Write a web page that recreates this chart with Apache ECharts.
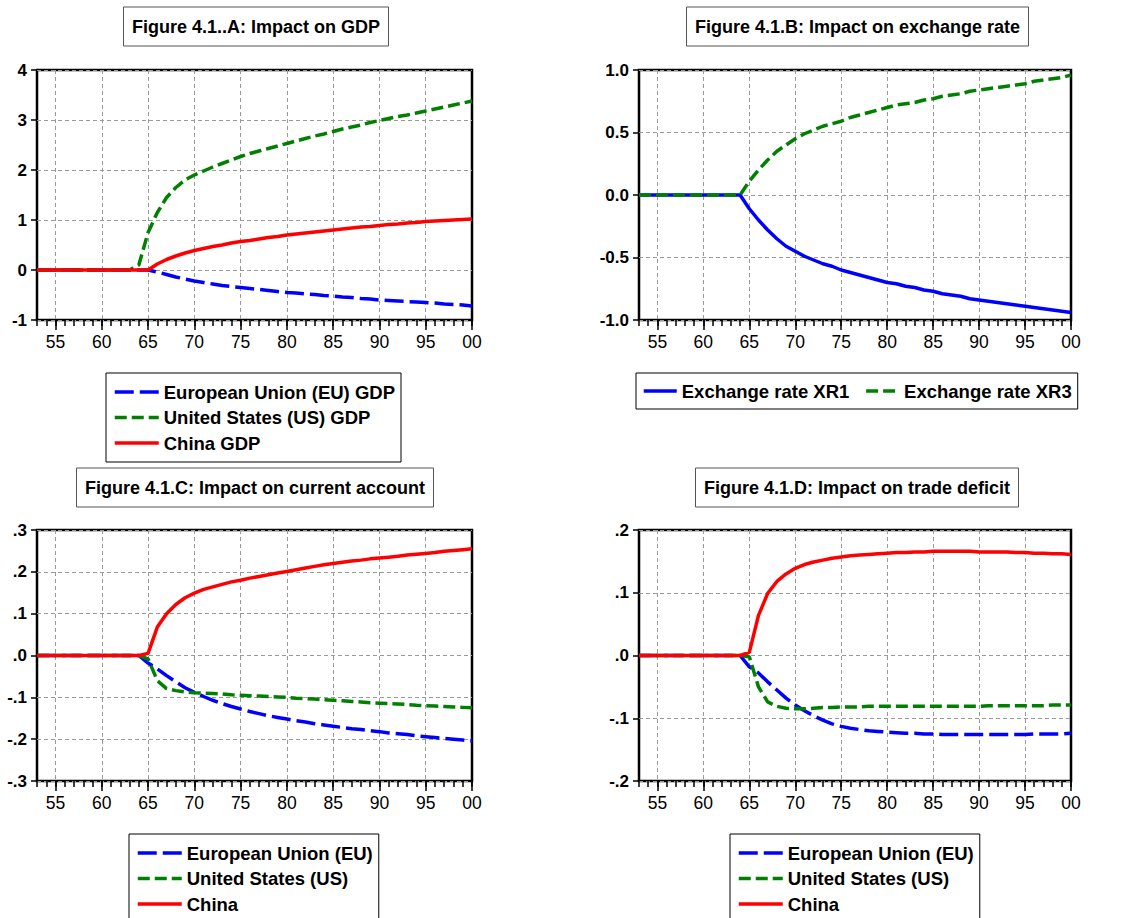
<!DOCTYPE html>
<html><head><meta charset="utf-8">
<script src="https://cdn.jsdelivr.net/npm/echarts@6/dist/echarts.min.js"></script>
<style>html,body{margin:0;padding:0;background:#fff}#c{width:1125px;height:918px}</style>
</head><body><div id="c"></div>
<script>
const years = ['1953','1954','1955','1956','1957','1958','1959','1960','1961','1962','1963','1964','1965','1966','1967','1968','1969','1970','1971','1972','1973','1974','1975','1976','1977','1978','1979','1980','1981','1982','1983','1984','1985','1986','1987','1988','1989','1990','1991','1992','1993','1994','1995','1996','1997','1998','1999','2000'];

const titlesText = ['Figure 4.1..A: Impact on GDP','Figure 4.1.B: Impact on exchange rate','Figure 4.1.C: Impact on current account','Figure 4.1.D: Impact on trade deficit'];

// Panel A: GDP
const gdpEU = [0,0,0,0,0,0,0,0,0,0,0,0,0,
 -0.04,-0.09,-0.14,-0.18,-0.22,-0.25,-0.28,-0.31,-0.33,-0.35,-0.37,-0.39,-0.41,-0.43,-0.45,-0.46,-0.48,-0.49,-0.51,-0.52,-0.54,-0.55,-0.57,-0.58,-0.6,-0.61,-0.62,-0.63,-0.64,-0.65,-0.66,-0.68,-0.69,-0.7,-0.72];
const gdpUS = [0,0,0,0,0,0,0,0,0,0,0,
 0.1,0.75,1.15,1.45,1.65,1.8,1.9,1.98,2.06,2.13,2.2,2.27,2.33,2.38,2.43,2.48,2.53,2.58,2.63,2.68,2.72,2.77,2.82,2.86,2.9,2.95,2.99,3.03,3.07,3.1,3.14,3.18,3.22,3.26,3.3,3.34,3.38];
const gdpCN = [0,0,0,0,0,0,0,0,0,0,0,0,0,
 0.12,0.21,0.28,0.34,0.39,0.43,0.47,0.5,0.54,0.57,0.59,0.62,0.65,0.67,0.7,0.72,0.74,0.76,0.78,0.8,0.82,0.84,0.86,0.87,0.89,0.91,0.92,0.94,0.95,0.97,0.98,0.99,1.0,1.01,1.02];

// Panel B: exchange rate
const xr1 = [0,0,0,0,0,0,0,0,0,0,0,0,
 -0.11,-0.2,-0.28,-0.35,-0.41,-0.45,-0.49,-0.52,-0.55,-0.57,-0.6,-0.62,-0.64,-0.66,-0.68,-0.7,-0.71,-0.73,-0.74,-0.76,-0.77,-0.79,-0.8,-0.81,-0.83,-0.84,-0.85,-0.86,-0.87,-0.88,-0.89,-0.9,-0.91,-0.92,-0.93,-0.94];
const xr3 = [0,0,0,0,0,0,0,0,0,0,0,0,
 0.11,0.2,0.28,0.35,0.4,0.45,0.49,0.52,0.55,0.57,0.59,0.62,0.64,0.66,0.68,0.7,0.72,0.73,0.74,0.76,0.77,0.79,0.8,0.81,0.83,0.84,0.85,0.86,0.87,0.88,0.89,0.91,0.92,0.93,0.94,0.96];

// Panel C: current account
const caEU = [0,0,0,0,0,0,0,0,0,0,0,0,
 -0.018,-0.032,-0.048,-0.063,-0.077,-0.088,-0.098,-0.107,-0.115,-0.122,-0.128,-0.134,-0.139,-0.144,-0.148,-0.152,-0.156,-0.159,-0.163,-0.166,-0.169,-0.172,-0.175,-0.177,-0.18,-0.182,-0.185,-0.187,-0.189,-0.192,-0.194,-0.196,-0.198,-0.2,-0.202,-0.204];
const caUS = [0,0,0,0,0,0,0,0,0,0,0,0,
 -0.008,-0.06,-0.079,-0.084,-0.087,-0.089,-0.09,-0.091,-0.092,-0.094,-0.095,-0.096,-0.097,-0.098,-0.099,-0.1,-0.102,-0.103,-0.104,-0.106,-0.107,-0.108,-0.11,-0.111,-0.113,-0.114,-0.115,-0.116,-0.117,-0.119,-0.12,-0.121,-0.122,-0.123,-0.124,-0.125];
const caCN = [0,0,0,0,0,0,0,0,0,0,0,0,
 0.005,0.068,0.1,0.122,0.138,0.149,0.158,0.164,0.17,0.176,0.18,0.185,0.189,0.193,0.197,0.201,0.205,0.209,0.213,0.217,0.22,0.223,0.226,0.228,0.231,0.233,0.235,0.237,0.24,0.242,0.244,0.246,0.249,0.251,0.253,0.255];

// Panel D: trade deficit
const tdEU = [0,0,0,0,0,0,0,0,0,0,0,0,
 -0.018,-0.028,-0.042,-0.055,-0.068,-0.079,-0.088,-0.096,-0.103,-0.109,-0.113,-0.116,-0.118,-0.12,-0.121,-0.122,-0.123,-0.124,-0.124,-0.125,-0.125,-0.126,-0.126,-0.126,-0.126,-0.126,-0.126,-0.126,-0.126,-0.126,-0.126,-0.125,-0.125,-0.125,-0.125,-0.124];
const tdUS = [0,0,0,0,0,0,0,0,0,0,0,0,
 -0.002,-0.05,-0.074,-0.081,-0.084,-0.085,-0.085,-0.084,-0.083,-0.083,-0.082,-0.082,-0.082,-0.081,-0.081,-0.081,-0.081,-0.081,-0.081,-0.081,-0.081,-0.081,-0.081,-0.081,-0.081,-0.081,-0.08,-0.08,-0.08,-0.08,-0.08,-0.08,-0.08,-0.079,-0.079,-0.079];
const tdCN = [0,0,0,0,0,0,0,0,0,0,0,0,
 0.005,0.064,0.099,0.118,0.13,0.139,0.145,0.149,0.152,0.155,0.157,0.159,0.16,0.161,0.162,0.163,0.164,0.164,0.165,0.165,0.166,0.166,0.166,0.166,0.166,0.165,0.165,0.165,0.165,0.164,0.164,0.163,0.163,0.162,0.162,0.161];

const namesA = ['European Union (EU) GDP','United States (US) GDP','China GDP'];
const namesB = ['Exchange rate XR1','Exchange rate XR3'];
const namesCD = ['European Union (EU)','United States (US)','China'];

const FONT = '"Liberation Sans", Arial, Helvetica, sans-serif';
const BLUE = '#0000ff', GREEN = '#008000', RED = '#ff0000';
const LW = 3.5;
const styleEU = {color: BLUE, width: LW, type: [19, 6]};
const styleUS = {color: GREEN, width: LW, type: [12, 5]};
const styleSolidRed = {color: RED, width: LW, type: 'solid'};
const styleSolidBlue = {color: BLUE, width: LW, type: 'solid'};

const gridsLayout = [
  {left: 37, top: 70, width: 435, height: 250},
  {left: 639, top: 70, width: 432, height: 250},
  {left: 37, top: 530, width: 435, height: 251},
  {left: 639, top: 530, width: 432, height: 251}
];
const yRanges = [
  {min: -1, max: 4, interval: 1, fmt: v => String(v)},
  {min: -1, max: 1, interval: 0.5, fmt: v => v.toFixed(1)},
  {min: -0.3, max: 0.3, interval: 0.1, fmt: v => v.toFixed(1).replace('0.', '.')},
  {min: -0.2, max: 0.2, interval: 0.1, fmt: v => v.toFixed(1).replace('0.', '.')}
];
const titleLayout = [
  {left: 123, top: 7},
  {left: 686, top: 7},
  {left: 76, top: 468},
  {left: 695, top: 468}
];

const grid = gridsLayout.map(g => Object.assign({show: true, borderColor: '#000', borderWidth: 2.5, backgroundColor: 'transparent', containLabel: false}, g));

const xAxis = [];
const yAxis = [];
gridsLayout.forEach((g, i) => {
  xAxis.push({
    type: 'category', gridIndex: i, data: years, boundaryGap: false, position: 'bottom',
    axisLine: {show: false, onZero: false},
    axisTick: {show: true, inside: false, length: 10, interval: (idx, val) => (+val) % 5 === 0, lineStyle: {color: '#000', width: 1.5}},
    axisLabel: {show: true, interval: (idx, val) => (+val) % 5 === 0, formatter: v => v.slice(2), color: '#000', fontFamily: FONT, fontSize: 17.5, margin: 13},
    splitLine: {show: true, interval: (idx, val) => (+val) % 5 === 0 && val !== '2000', lineStyle: {color: '#9a9a9a', width: 1, type: [4, 3]}}
  });
  // minor yearly ticks
  xAxis.push({
    type: 'category', gridIndex: i, data: years, boundaryGap: false, position: 'bottom',
    axisLine: {show: false, onZero: false},
    axisTick: {show: true, length: 6, interval: 0, lineStyle: {color: '#000', width: 1.5}},
    axisLabel: {show: false}, splitLine: {show: false}
  });
  const r = yRanges[i];
  yAxis.push({
    type: 'value', gridIndex: i, min: r.min, max: r.max, interval: r.interval,
    axisLine: {show: false, onZero: false},
    axisTick: {show: true, length: 6, lineStyle: {color: '#000', width: 1.5}},
    axisLabel: {formatter: r.fmt, color: '#000', fontFamily: FONT, fontSize: 17, fontWeight: 'bold', margin: 10},
    splitLine: {show: true, lineStyle: {color: '#9a9a9a', width: 1, type: [4, 3]}}
  });
});

function line(name, data, gi, ls) {
  return {
    type: 'line', name, data, xAxisIndex: gi * 2, yAxisIndex: gi,
    symbol: 'none', showSymbol: false, smooth: false, silent: true,
    lineStyle: ls, itemStyle: {color: ls.color}, animation: false
  };
}

const series = [
  line(namesA[0], gdpEU, 0, styleEU),
  line(namesA[1], gdpUS, 0, styleUS),
  line(namesA[2], gdpCN, 0, styleSolidRed),
  line(namesB[0], xr1, 1, styleSolidBlue),
  line(namesB[1], xr3, 1, styleUS),
  line(namesCD[0], caEU, 2, styleEU),
  line(namesCD[1], caUS, 2, styleUS),
  line(namesCD[2], caCN, 2, styleSolidRed),
  line(namesCD[0], tdEU, 3, styleEU),
  line(namesCD[1], tdUS, 3, styleUS),
  line(namesCD[2], tdCN, 3, styleSolidRed)
];

const legendBase = {
  selectedMode: false, borderColor: '#000', borderWidth: 1, backgroundColor: '#fff',
  itemHeight: 14,
  lineStyle: {width: LW},
  itemStyle: {opacity: 0, borderWidth: 0},
  textStyle: {color: '#000', fontFamily: FONT, fontSize: 18.5, fontWeight: 'bold', lineHeight: 20}
};
const legend = [
  Object.assign({}, legendBase, {data: namesA, orient: 'vertical', left: 106, top: 373, height: 100, itemWidth: 44, itemGap: 5.5, padding: [9, 6, 9, 7]}),
  Object.assign({}, legendBase, {data: namesB, orient: 'horizontal', left: 636, top: 373, itemWidth: 33, itemGap: 15, padding: [8, 6, 8, 6]}),
  Object.assign({}, legendBase, {data: namesCD, orient: 'vertical', left: 129, top: 834, height: 100, itemWidth: 44, itemGap: 5.5, padding: [9, 6, 9, 7]}),
  Object.assign({}, legendBase, {data: namesCD, orient: 'vertical', left: 730, top: 834, height: 100, itemWidth: 44, itemGap: 5.5, padding: [9, 6, 9, 7]})
];

const title = titlesText.map((t, i) => Object.assign({
  text: t, borderColor: '#555', borderWidth: 1, backgroundColor: '#fff', padding: [8.5, 9],
  textStyle: {color: '#000', fontFamily: FONT, fontSize: 18, fontWeight: 'bold', lineHeight: 22}
}, titleLayout[i]));

const chart = echarts.init(document.getElementById('c'), null, {renderer: 'svg'});
chart.setOption({
  backgroundColor: '#fff', animation: false,
  title, legend, grid, xAxis, yAxis, series
});
</script>
</body></html>
